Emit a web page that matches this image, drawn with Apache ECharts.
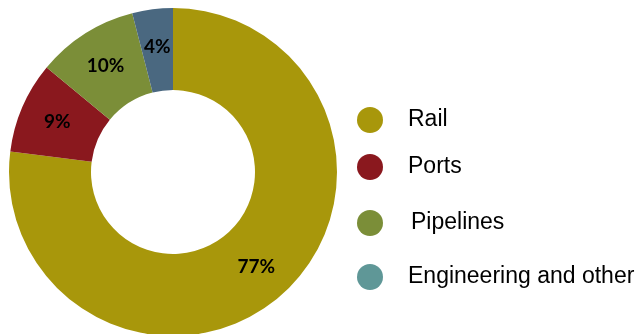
<!DOCTYPE html>
<html>
<head>
<meta charset="utf-8">
<script src="https://cdn.jsdelivr.net/npm/echarts@6/dist/echarts.min.js"></script>
<style>
  html, body { margin: 0; padding: 0; background: #fff; }
  #chart { width: 644px; height: 334px; }
</style>
</head>
<body>
<div id="chart"></div>
<script>
// Segment shares (percent)
const categories = ['Rail', 'Ports', 'Pipelines', 'Engineering and other'];
const shares = [77, 9, 10, 4];
const sliceColors = ['#A8970B', '#8A181E', '#7B8E38', '#4A6880'];
const legendColors = ['#A8970B', '#8A181E', '#7B8E38', '#5F9797'];

// vertical centre of each legend row
const legendCenters = [120, 167, 223, 277];
const legendPads = [20, 20, 23, 20];

const chart = echarts.init(document.getElementById('chart'), null, { renderer: 'canvas' });

const legends = categories.map((name, i) => ({
  left: 357,
  top: legendCenters[i] - 13,
  padding: 0,
  orient: 'vertical',
  icon: 'circle',
  itemWidth: 26,
  itemHeight: 26,
  selectedMode: false,
  data: [{ name: name, itemStyle: { color: legendColors[i] } }],
  formatter: n => '{pad|}' + n,
  textStyle: {
    fontFamily: 'Liberation Sans, Arial, sans-serif',
    fontSize: 23,
    lineHeight: 26,
    color: '#000',
    rich: { pad: { width: legendPads[i] } }
  }
}));

chart.setOption({
  animation: false,
  backgroundColor: '#fff',
  legend: legends,
  series: [{
    type: 'pie',
    center: [173, 172],
    radius: [82, 164],
    startAngle: 90,
    clockwise: true,
    avoidLabelOverlap: false,
    label: {
      show: true,
      position: 'inside',
      formatter: p => p.value + '%',
      fontFamily: 'Lato, sans-serif',
      fontWeight: 'bold',
      fontSize: 19,
      color: '#000'
    },
    labelLine: { show: false },
    itemStyle: { borderWidth: 0 },
    emphasis: { disabled: true },
    data: categories.map((name, i) => ({
      name: name,
      value: shares[i],
      itemStyle: { color: sliceColors[i] }
    }))
  }]
});
</script>
</body>
</html>
